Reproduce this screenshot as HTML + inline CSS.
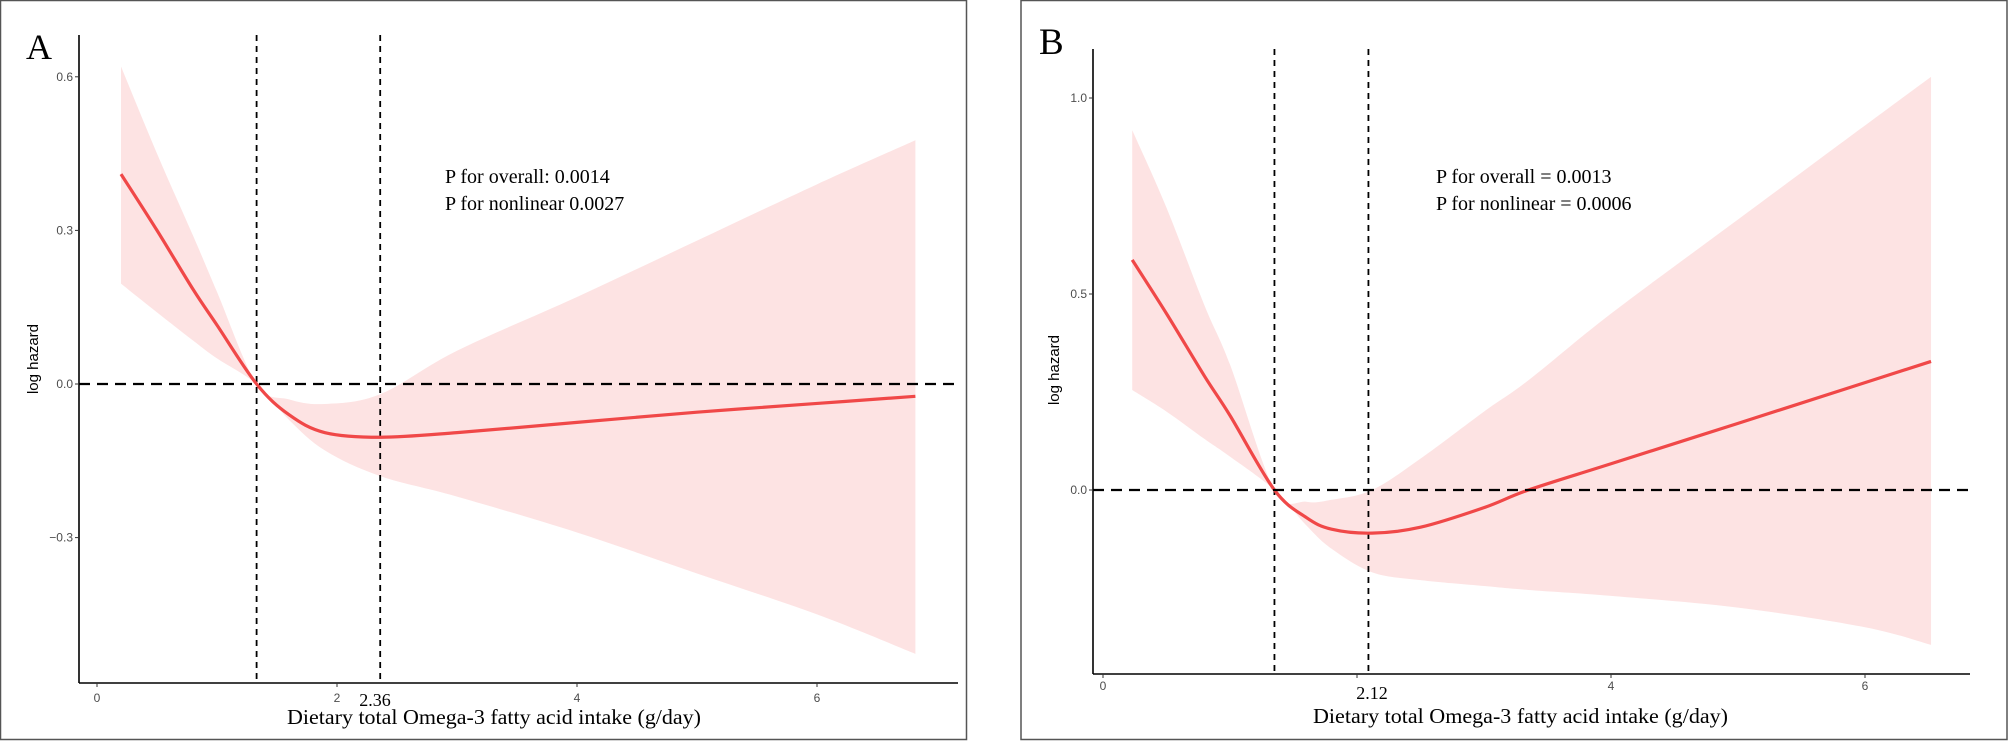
<!DOCTYPE html>
<html><head><meta charset="utf-8">
<style>
html,body{margin:0;padding:0;background:#fff;}
svg{display:block;}
.tick{font-family:"Liberation Sans",sans-serif;font-size:12px;fill:#4d4d4d;}
.serif{font-family:"Liberation Serif",serif;fill:#000;}
</style></head>
<body>
<svg id="chart" width="2008" height="741" viewBox="0 0 2008 741" xmlns="http://www.w3.org/2000/svg">
<rect x="0.5" y="0.5" width="966" height="739" fill="#fff" stroke="#555" stroke-width="1.5"/>
<rect x="1021" y="0.5" width="986" height="739" fill="#fff" stroke="#555" stroke-width="1.5"/>
<g id="pa"></g>
<g id="pb"></g>
</svg>
<script>
// Panel A data
const aX = [0.2,0.5,0.8,1.0,1.33,1.6,1.9,2.36,3,4,5,6,6.82];
const aFit = [0.41,0.30,0.185,0.115,0.0,-0.06,-0.095,-0.104,-0.095,-0.075,-0.055,-0.038,-0.024];
const aUpper = [0.62,0.45,0.29,0.18,0.0,-0.03,-0.039,-0.02,0.065,0.17,0.28,0.39,0.476];
const aLower = [0.196,0.14,0.085,0.05,0.0,-0.07,-0.13,-0.18,-0.22,-0.29,-0.37,-0.45,-0.527];
const aXTicks = [0,2,4,6];
const aYTicks = [0.6,0.3,0.0,-0.3];
const aYTickLabels = ["0.6","0.3","0.0","\u22120.3"];
const aVLines = [1.33,2.36];
// Panel B data
const bX = [0.23,0.5,0.8,1.0,1.35,1.6,1.8,2.12,2.5,3,3.35,4,5,6,6.52];
const bFit = [0.587,0.45,0.29,0.19,0.0,-0.07,-0.1,-0.11,-0.095,-0.045,0.0,0.067,0.17,0.274,0.328];
const bUpper = [0.918,0.72,0.47,0.32,0.0,-0.03,-0.025,0.0,0.08,0.2,0.28,0.45,0.69,0.93,1.054];
const bLower = [0.255,0.2,0.13,0.085,0.0,-0.09,-0.15,-0.21,-0.23,-0.245,-0.255,-0.27,-0.3,-0.35,-0.395];
const bXTicks = [0,2,4,6];
const bXTickLabels = ["0","","4","6"];
const bYTicks = [1.0,0.5,0.0];
const bYTickLabels = ["1.0","0.5","0.0"];
const bVLines = [1.35,2.09];

const NS="http://www.w3.org/2000/svg";
function mk(parent,tag,attrs){const e=document.createElementNS(NS,tag);for(const k in attrs)e.setAttribute(k,attrs[k]);parent.appendChild(e);return e;}
function smooth(pts){let d="M"+pts[0][0]+","+pts[0][1];for(let i=0;i<pts.length-1;i++){const p0=pts[i-1]||pts[i],p1=pts[i],p2=pts[i+1],p3=pts[i+2]||p2;const c1x=p1[0]+(p2[0]-p0[0])/6,c1y=p1[1]+(p2[1]-p0[1])/6,c2x=p2[0]-(p3[0]-p1[0])/6,c2y=p2[1]-(p3[1]-p1[1])/6;d+=" C"+c1x+","+c1y+" "+c2x+","+c2y+" "+p2[0]+","+p2[1];}return d;}
function smoothCont(pts){return smooth(pts).replace(/^M/,"L");}

function panel(g,cfg){
  const sx=v=>cfg.x0+v*cfg.xu, sy=v=>cfg.y0-v*cfg.yu;
  const up=cfg.xs.map((x,i)=>[sx(x),sy(cfg.up[i])]);
  const lo=cfg.xs.map((x,i)=>[sx(x),sy(cfg.lo[i])]).reverse();
  const band=mk(g,"path",{d:smooth(up)+" "+smoothCont(lo)+" Z",fill:"#fde3e3",stroke:"none"});
  
  
  cfg.vl.forEach(v=>{const l=mk(g,"line",{x1:sx(v),x2:sx(v),y1:cfg.top,y2:cfg.bottom,stroke:"#000","stroke-width":1.8,"stroke-dasharray":"6,5"});
    
    });
  const fit=mk(g,"path",{d:smooth(cfg.xs.map((x,i)=>[sx(x),sy(cfg.fit[i])])),fill:"none",stroke:"#f04848","stroke-width":3.2});
  
  
  const h=mk(g,"line",{x1:cfg.ax,x2:cfg.hEnd,y1:sy(0),y2:sy(0),stroke:"#000","stroke-width":2.2,"stroke-dasharray":"11,7"});
  
  
  const ya=mk(g,"line",{x1:cfg.ax,x2:cfg.ax,y1:cfg.top,y2:cfg.bottom,stroke:"#000","stroke-width":1.6});
  
  
  const xa=mk(g,"line",{x1:cfg.ax,x2:cfg.xEnd,y1:cfg.bottom,y2:cfg.bottom,stroke:"#000","stroke-width":1.6});
  
  
  cfg.yt.forEach((v,i)=>{mk(g,"line",{x1:cfg.ax-4,x2:cfg.ax,y1:sy(v),y2:sy(v),stroke:"#333","stroke-width":1});
    const t=mk(g,"text",{x:cfg.ax-6,y:sy(v)+4,"text-anchor":"end",class:"tick"});t.textContent=cfg.ytl[i];
    
    });
  cfg.xt.forEach((v,i)=>{mk(g,"line",{x1:sx(v),x2:sx(v),y1:cfg.bottom,y2:cfg.bottom+4,stroke:"#333","stroke-width":1});
    const t=mk(g,"text",{x:sx(v),y:cfg.bottom+cfg.tickDy,"text-anchor":"middle",class:"tick"});t.textContent=cfg.xtl[i];
    
    });
  const sp=mk(g,"text",{x:cfg.specialX,y:cfg.specialY,"text-anchor":"middle",class:"serif","font-size":"18"});sp.textContent=cfg.specialLabel;
  
  
}

panel(document.getElementById('pa'),{x0:97,xu:120,y0:384,yu:512,ax:79,top:35,bottom:683,xEnd:958,hEnd:958,
  xs:aX,fit:aFit,up:aUpper,lo:aLower,xt:aXTicks,xtl:["0","2","4","6"],yt:aYTicks,ytl:aYTickLabels,vl:aVLines,tickDy:19,specialX:375,specialLabel:"2.36",specialY:706});
panel(document.getElementById('pb'),{x0:1103,xu:127,y0:490,yu:392,ax:1093,top:49,bottom:674,xEnd:1970,hEnd:1970,
  xs:bX,fit:bFit,up:bUpper,lo:bLower,xt:bXTicks,xtl:bXTickLabels,yt:bYTicks,ytl:bYTickLabels,vl:bVLines,tickDy:16,specialX:1372,specialLabel:"2.12",specialY:699});
</script>
<svg style="position:absolute;left:0;top:0" width="2008" height="741">
<text x="26" y="59" class="serif" font-size="36">A</text>
<text x="1039" y="54" class="serif" font-size="37">B</text>
<text x="445" y="183" class="serif" font-size="20">P for overall: 0.0014</text>
<text x="445" y="210" class="serif" font-size="20">P for nonlinear 0.0027</text>
<text x="1436" y="183" class="serif" font-size="20">P for overall = 0.0013</text>
<text x="1436" y="210" class="serif" font-size="20">P for nonlinear = 0.0006</text>
<text x="287" y="724" class="serif" font-size="21" textLength="414" lengthAdjust="spacingAndGlyphs">Dietary total Omega-3 fatty acid intake (g/day)</text>
<text x="1313" y="723" class="serif" font-size="21" textLength="415" lengthAdjust="spacingAndGlyphs">Dietary total Omega-3 fatty acid intake (g/day)</text>
<text transform="translate(38,359) rotate(-90)" text-anchor="middle" font-family="Liberation Sans, sans-serif" font-size="15">log hazard</text>
<text transform="translate(1059,370) rotate(-90)" text-anchor="middle" font-family="Liberation Sans, sans-serif" font-size="15">log hazard</text>
</svg>
</body></html>
